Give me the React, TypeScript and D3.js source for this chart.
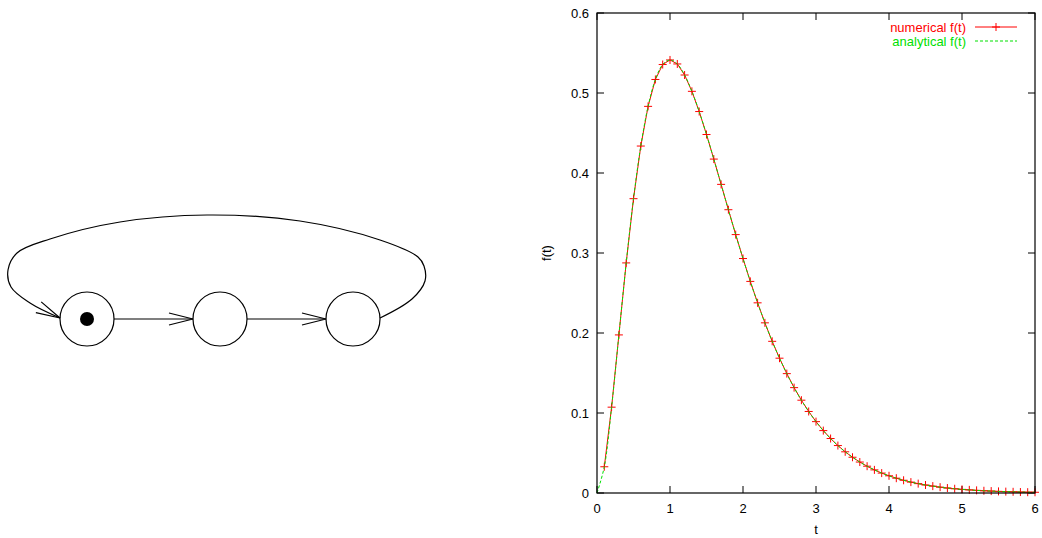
import React from 'react';
import { scaleLinear, line, curveCatmullRom, curveLinear } from 'd3';

const width = 1042;
const height = 538;
const plotLeft = 597;
const plotRight = 1035;
const plotTop = 13;
const plotBottom = 493;

// numerical f(t), markers every 0.1
const tNumerical = [0.1, 0.2, 0.3, 0.4, 0.5, 0.6, 0.7, 0.8, 0.9, 1.0, 1.1, 1.2, 1.3, 1.4, 1.5, 1.6, 1.7, 1.8, 1.9, 2.0,
  2.1, 2.2, 2.3, 2.4, 2.5, 2.6, 2.7, 2.8, 2.9, 3.0, 3.1, 3.2, 3.3, 3.4, 3.5, 3.6, 3.7, 3.8, 3.9, 4.0,
  4.1, 4.2, 4.3, 4.4, 4.5, 4.6, 4.7, 4.8, 4.9, 5.0, 5.1, 5.2, 5.3, 5.4, 5.5, 5.6, 5.7, 5.8, 5.9, 6.0];
const fNumerical = [0.0328, 0.1073, 0.1976, 0.2876, 0.3679, 0.4337, 0.4833, 0.5169, 0.5356, 0.5413,
  0.5363, 0.5225, 0.5021, 0.4768, 0.4481, 0.4174, 0.3858, 0.3541, 0.3230, 0.2931,
  0.2645, 0.2377, 0.2127, 0.1896, 0.1685, 0.1492, 0.1317, 0.1160, 0.1019, 0.0892,
  0.0780, 0.0681, 0.0593, 0.0515, 0.0447, 0.0387, 0.0335, 0.0289, 0.0249, 0.0215,
  0.0185, 0.0159, 0.0136, 0.0117, 0.0100, 0.0086, 0.0073, 0.0062, 0.0053, 0.0045,
  0.0039, 0.0033, 0.0028, 0.0024, 0.0020, 0.0017, 0.0015, 0.0012, 0.0010, 0.0009];

// analytical f(t), starts at the origin
const tAnalytical = [0, ...tNumerical];
const fAnalytical = [0, ...fNumerical];

const xTicks = [0, 1, 2, 3, 4, 5, 6];
const yTicks = [0, 0.1, 0.2, 0.3, 0.4, 0.5, 0.6];

// left diagram: three places, one token, loop back
const placeX = [87, 220, 353];
const placeY = 319;
const placeR = 27;
const loopPoints: [number, number][] = [[380, 318], [412, 299], [425, 281], [424, 266], [418, 257], [380, 240],
  [300, 221], [207, 215], [120, 222], [50, 239], [17, 253], [8, 270], [11, 287], [30, 303], [60, 318]];

const font = '"Liberation Sans", Arial, sans-serif';
const red = '#ff0000';
const green = '#00e000';

const App = () => {
  const x = scaleLinear().domain([0, 6]).range([plotLeft, plotRight]);
  const y = scaleLinear().domain([0, 0.6]).range([plotBottom, plotTop]);
  const numLine = line<number>().x((d, i) => x(tNumerical[i])).y(d => y(d)).curve(curveLinear);
  const anaLine = line<number>().x((d, i) => x(tAnalytical[i])).y(d => y(d)).curve(curveCatmullRom);
  const loop = line().curve(curveCatmullRom)(loopPoints);

  const arrowHead = (tipX: number, tipY: number, dx: number, dy: number, len = 24, half = 6) => {
    const n = Math.hypot(dx, dy);
    const ux = dx / n, uy = dy / n;
    const bx = tipX - ux * len, by = tipY - uy * len;
    return `M${bx - uy * half},${by + ux * half}L${tipX},${tipY}L${bx + uy * half},${by - ux * half}`;
  };

  const plus = (cx: number, cy: number, s = 4) => `M${cx - s},${cy}H${cx + s}M${cx},${cy - s}V${cy + s}`;

  return (
    <svg width={width} height={height} style={{ position: 'absolute', left: 0, top: 0, background: 'white' }}>
      {/* diagram */}
      <g fill="none" stroke="black" strokeWidth={1.2}>
        {placeX.map((cx, i) => <circle key={i} cx={cx} cy={placeY} r={placeR} fill="white" />)}
        {placeX.slice(0, 2).map((cx, i) => (
          <g key={i}>
            <line x1={cx + placeR} y1={placeY} x2={placeX[i + 1] - placeR} y2={placeY} />
            <path d={arrowHead(placeX[i + 1] - placeR, placeY, 1, 0)} />
          </g>
        ))}
        <path d={loop || ''} />
        <path d={arrowHead(60, 318, 30, 15)} />
      </g>
      <circle cx={placeX[0]} cy={placeY} r={7} fill="black" />

      {/* plot */}
      <g fontFamily={font} fontSize={13}>
        {yTicks.map(t => (
          <g key={t}>
            <line x1={plotLeft} x2={plotLeft + 7} y1={y(t)} y2={y(t)} stroke="black" />
            <line x1={plotRight} x2={plotRight - 7} y1={y(t)} y2={y(t)} stroke="black" />
            <text x={plotLeft - 8} y={y(t)} dy="0.35em" textAnchor="end">{t === 0 ? '0' : t.toFixed(1)}</text>
          </g>
        ))}
        {xTicks.map(t => (
          <g key={t}>
            <line x1={x(t)} x2={x(t)} y1={plotBottom} y2={plotBottom - 7} stroke="black" />
            <line x1={x(t)} x2={x(t)} y1={plotTop} y2={plotTop + 7} stroke="black" />
            <text x={x(t)} y={plotBottom + 20} textAnchor="middle">{t}</text>
          </g>
        ))}
        <text x={816} y={534} textAnchor="middle">t</text>
        <text transform={`translate(551,253) rotate(-90)`} textAnchor="middle">f(t)</text>

        <path d={numLine(fNumerical) || ''} fill="none" stroke={red} strokeWidth={1} />
        <path d={plus(0, 0)} style={{ display: 'none' }} />
        {fNumerical.map((v, i) => (
          <path key={i} d={plus(x(tNumerical[i]), y(v))} stroke={red} strokeWidth={1} />
        ))}
        <path d={anaLine(fAnalytical) || ''} fill="none" stroke={green} strokeWidth={1} strokeDasharray="3,2" />

        <rect x={plotLeft} y={plotTop} width={plotRight - plotLeft} height={plotBottom - plotTop} fill="none" stroke="black" strokeWidth={1.2} />

        {/* legend */}
        <text x={966} y={32} textAnchor="end" fill={red}>numerical f(t)</text>
        <line x1={975} x2={1017} y1={27} y2={27} stroke={red} />
        <path d={plus(996, 27)} stroke={red} />
        <text x={966} y={46} textAnchor="end" fill={green}>analytical f(t)</text>
        <line x1={975} x2={1017} y1={41} y2={41} stroke={green} strokeDasharray="3,2" />
      </g>
    </svg>
  );
};

export default App;
